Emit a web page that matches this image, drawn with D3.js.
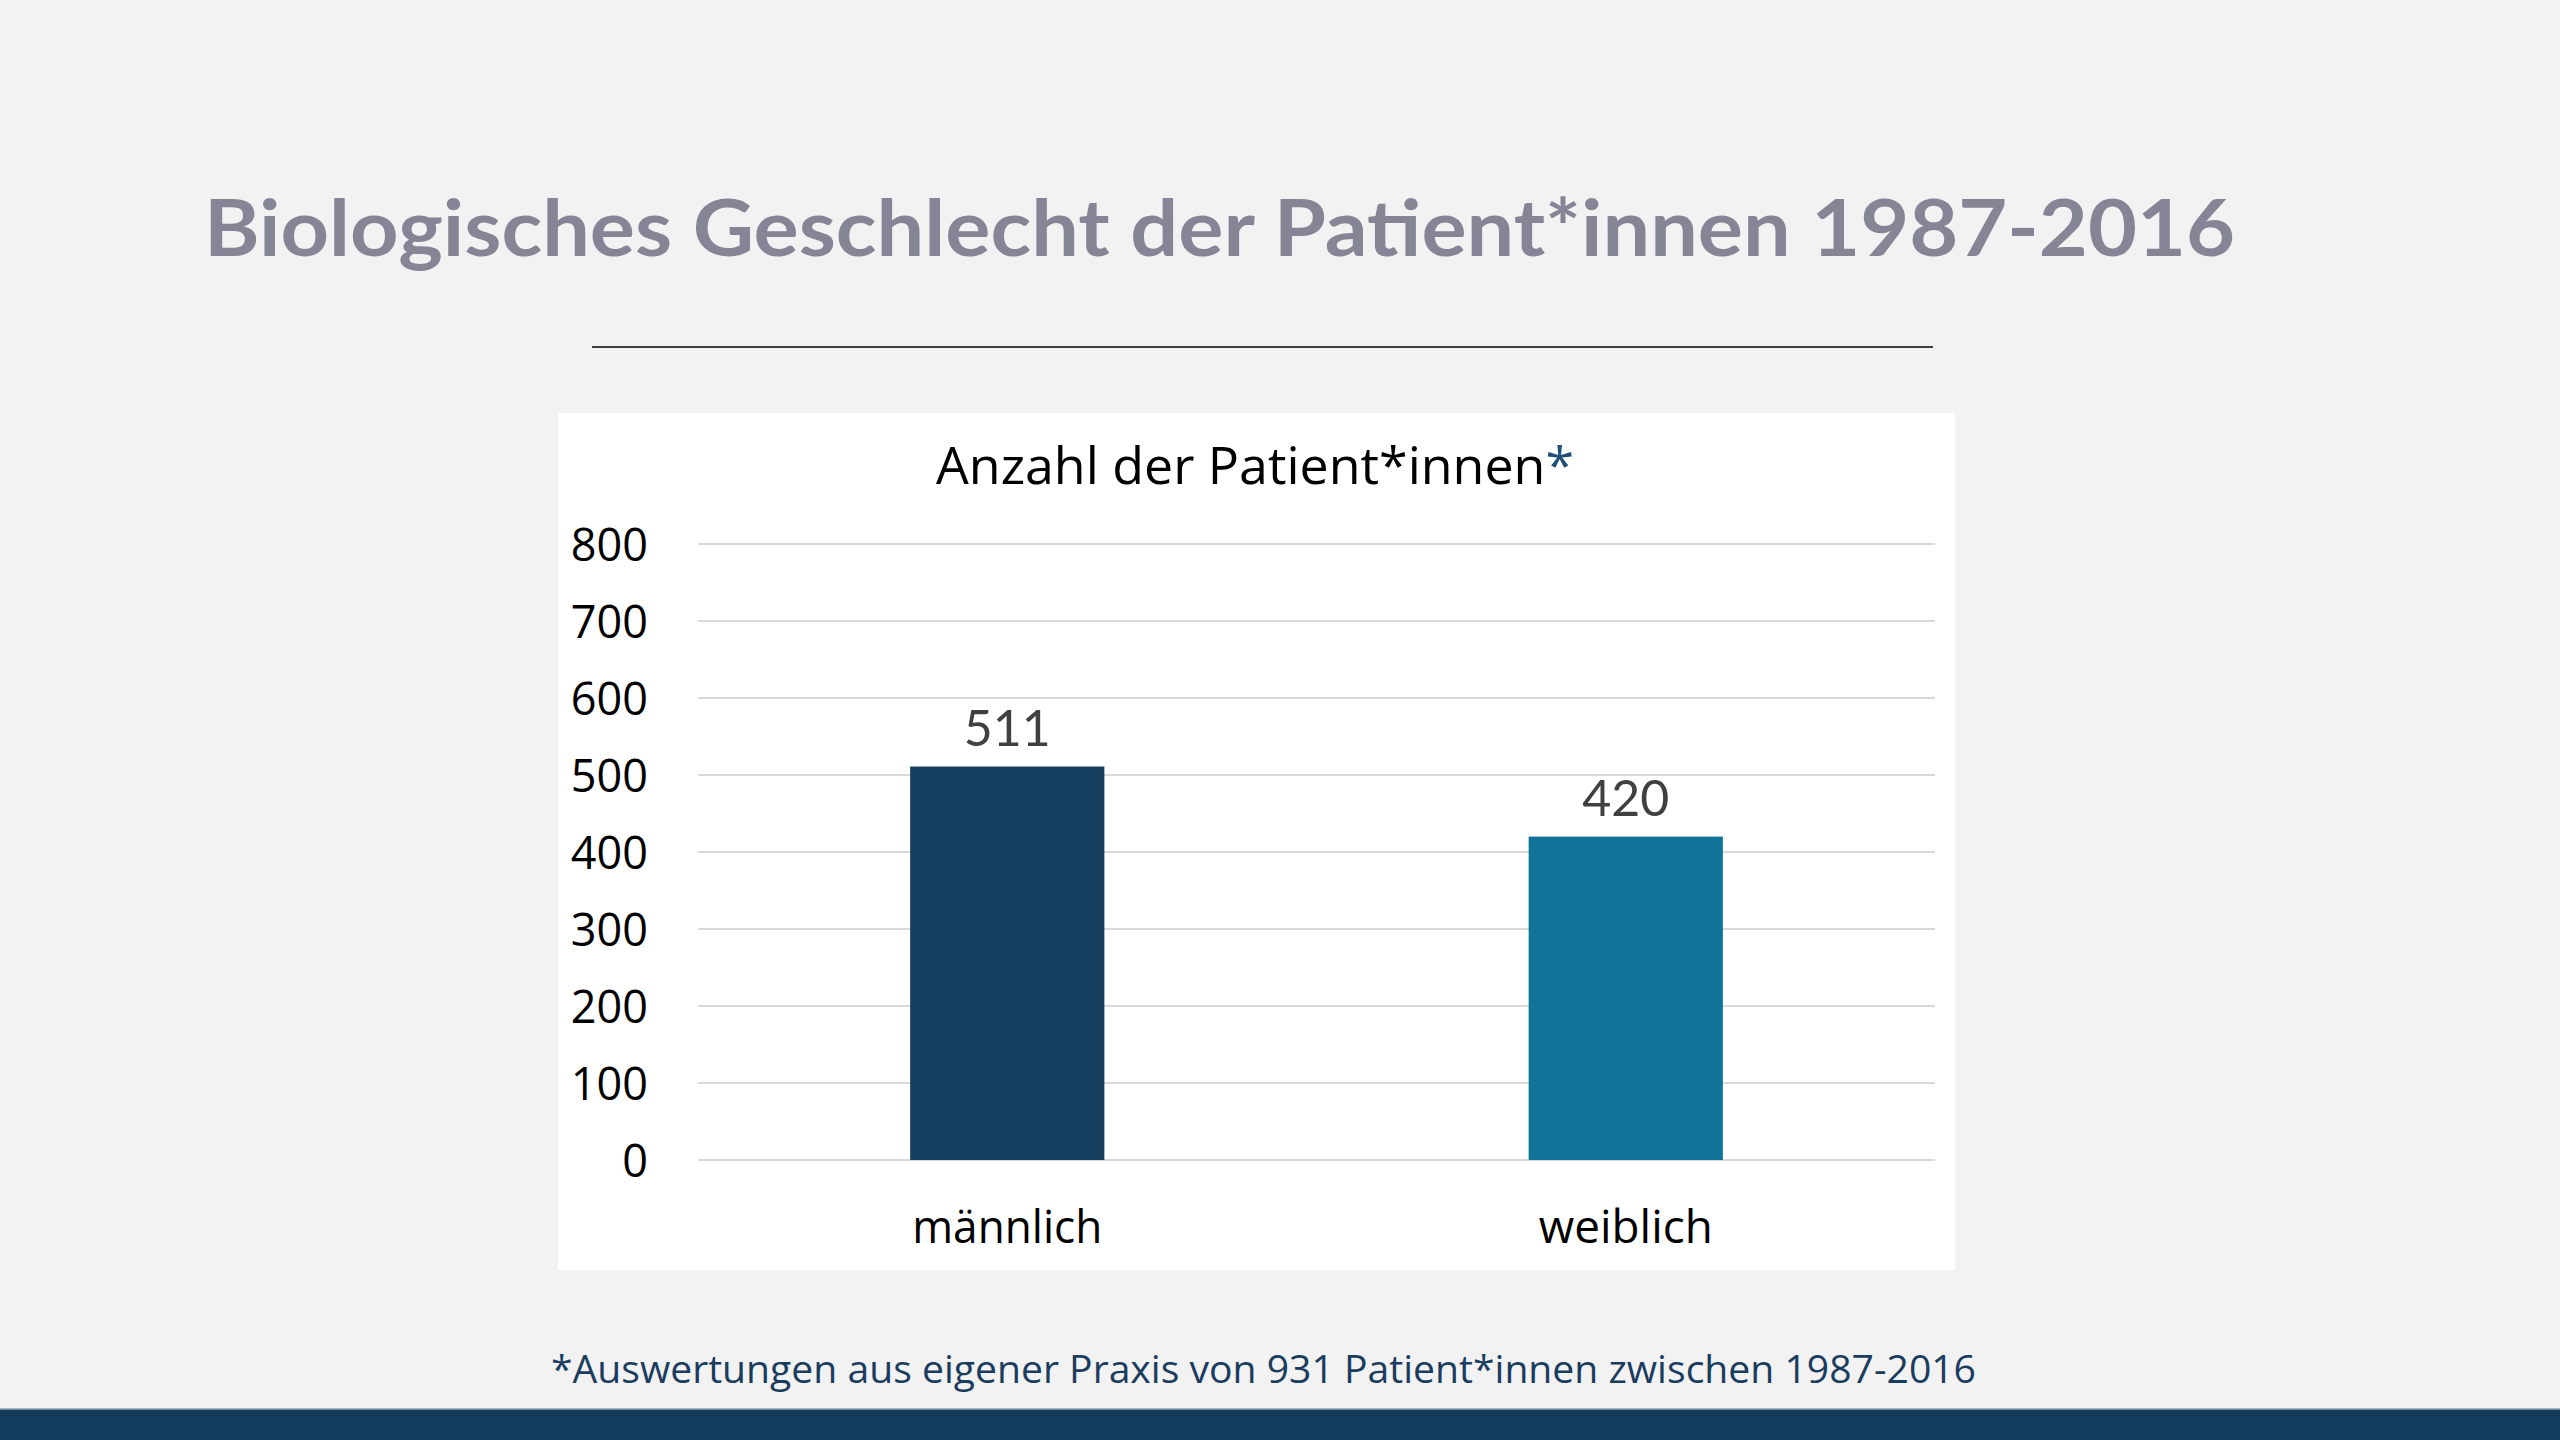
<!DOCTYPE html>
<html>
<head>
<meta charset="utf-8">
<script src="https://cdn.jsdelivr.net/npm/d3@7"></script>
<style>
  html, body { margin: 0; padding: 0; background: #f2f2f2; }
  svg { display: block; }
</style>
</head>
<body>
<svg id="chart" width="2560" height="1440"></svg>
<script>
// ---- Data ----
const categories = ["männlich", "weiblich"];
const values = [511, 420];
const barColors = ["#153d5e", "#107399"];
const yTicks = [0, 100, 200, 300, 400, 500, 600, 700, 800];
const pageTitle = "Biologisches Geschlecht der Patient*innen 1987-2016";
const chartTitle = "Anzahl der Patient*innen";
const footnote = "*Auswertungen aus eigener Praxis von 931 Patient*innen zwischen 1987-2016";

// ---- Layout ----
const svg = d3.select("#chart");
const W = 2560, H = 1440;

svg.append("rect").attr("width", W).attr("height", H).attr("fill", "#f2f2f2");

// Page title
svg.append("text")
  .attr("x", 204).attr("y", 256)
  .attr("font-family", "Lato, 'Open Sans', sans-serif")
  .attr("font-weight", 700)
  .attr("font-size", 78)
  .attr("fill", "#868596")
  .attr("textLength", 2031)
  .attr("lengthAdjust", "spacingAndGlyphs")
  .text(pageTitle);

// Rule under title
svg.append("line")
  .attr("x1", 592).attr("x2", 1933)
  .attr("y1", 347).attr("y2", 347)
  .attr("stroke", "#404040").attr("stroke-width", 2);

// White chart panel
const panel = { x: 558, y: 413, w: 1397, h: 857 };
svg.append("rect")
  .attr("x", panel.x).attr("y", panel.y)
  .attr("width", panel.w).attr("height", panel.h)
  .attr("fill", "#ffffff");

// Chart title
const ct = svg.append("text")
  .attr("x", 1255).attr("y", 484)
  .attr("text-anchor", "middle")
  .attr("font-family", "'Open Sans', sans-serif")
  .attr("font-size", 52)
  .attr("fill", "#000000")
  .attr("textLength", 638)
  .attr("lengthAdjust", "spacingAndGlyphs");
ct.append("tspan").text(chartTitle);
ct.append("tspan").attr("fill", "#1f4e79").text("*");

// Scales
const plot = { left: 698, right: 1935, top: 544, bottom: 1160 };
const y = d3.scaleLinear().domain([0, 800]).range([plot.bottom, plot.top]);
const x = d3.scaleBand().domain(categories)
  .range([plot.left, plot.right])
  .paddingInner(0.686).paddingOuter(0.343);

// Gridlines
svg.append("g")
  .selectAll("line")
  .data(yTicks)
  .join("line")
  .attr("x1", plot.left).attr("x2", plot.right)
  .attr("y1", d => y(d)).attr("y2", d => y(d))
  .attr("stroke", "#d9d9d9").attr("stroke-width", 2);

// Y axis labels
const yAxis = d3.axisLeft(y).tickValues(yTicks).tickSize(0).tickPadding(0);
const yg = svg.append("g")
  .attr("transform", `translate(648,0)`)
  .call(yAxis);
yg.select(".domain").remove();
yg.selectAll("text")
  .attr("font-family", "'Open Sans', sans-serif")
  .attr("font-size", 45)
  .attr("fill", "#000000")
  .attr("dy", "0.36em");

// Bars
svg.append("g")
  .selectAll("rect")
  .data(values)
  .join("rect")
  .attr("x", (d, i) => x(categories[i]))
  .attr("y", d => y(d))
  .attr("width", x.bandwidth())
  .attr("height", d => y(0) - y(d))
  .attr("fill", (d, i) => barColors[i]);

// Value labels
svg.append("g")
  .selectAll("text")
  .data(values)
  .join("text")
  .attr("x", (d, i) => x(categories[i]) + x.bandwidth() / 2)
  .attr("y", d => y(d) - 21)
  .attr("text-anchor", "middle")
  .attr("font-family", "Lato, 'Open Sans', sans-serif")
  .attr("font-size", 50)
  .attr("fill", "#404040")
  .text(d => d);

// Category labels
const catWidths = [190, 174];
const xAxis = d3.axisBottom(x).tickSize(0).tickPadding(0);
const xg = svg.append("g")
  .attr("transform", `translate(0,1243)`)
  .call(xAxis);
xg.select(".domain").remove();
xg.selectAll("text")
  .attr("font-family", "'Open Sans', sans-serif")
  .attr("font-size", 46)
  .attr("fill", "#000000")
  .attr("dy", 0)
  .attr("textLength", (d, i) => catWidths[i])
  .attr("lengthAdjust", "spacingAndGlyphs");

// Footnote
svg.append("text")
  .attr("x", 1263.5).attr("y", 1383)
  .attr("text-anchor", "middle")
  .attr("font-family", "'Open Sans', sans-serif")
  .attr("font-size", 38)
  .attr("fill", "#1a3d5f")
  .attr("textLength", 1425)
  .attr("lengthAdjust", "spacingAndGlyphs")
  .text(footnote);

// Bottom band
svg.append("rect")
  .attr("x", 0).attr("y", 1409)
  .attr("width", W).attr("height", H - 1409)
  .attr("fill", "#133b5c");
svg.append("line")
  .attr("x1", 0).attr("x2", W)
  .attr("y1", 1409).attr("y2", 1409)
  .attr("stroke", "#8fa3b3").attr("stroke-width", 1.5);
</script>
</body>
</html>
